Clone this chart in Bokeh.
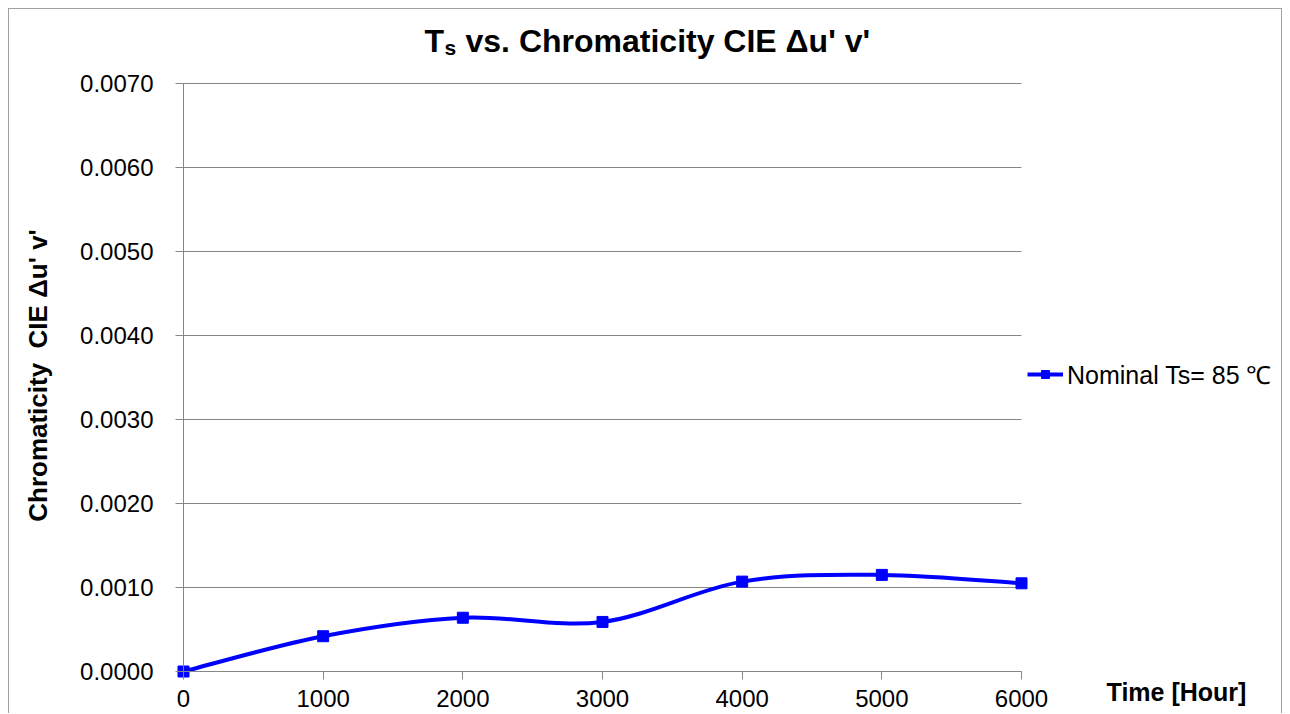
import math
from bokeh.plotting import figure
from bokeh.models import (Label, Legend, LegendItem, FixedTicker, NumeralTickFormatter,
                          Range1d, ColumnDataSource, Grid)
from bokeh.embed import file_html
from bokeh.resources import INLINE

# ---- data ----
hours = [0, 1000, 2000, 3000, 4000, 5000, 6000]
delta_uv = [0.0000, 0.00042, 0.00064, 0.00059, 0.00107, 0.00115, 0.00105]
series_name = "Nominal Ts= 85 \u2103"
x_ticks = [0, 1000, 2000, 3000, 4000, 5000, 6000]
y_ticks = [0.0, 0.001, 0.002, 0.003, 0.004, 0.005, 0.006, 0.007]
x_lo, x_hi = 0, 6000
y_lo, y_hi = 0.0, 0.007

BLUE = "#0000FF"
GRID = "#868686"
FONT = "Liberation Sans"

# page-pixel layout of the plot area (axes drawn at fixed locations)
PX_LEFT, PX_RIGHT, PX_TOP, PX_BOTTOM = 183, 1021, 83, 671
CANVAS_X0, CANVAS_Y0 = 9, 9          # canvas origin on the page (8px margin + 1px border)
W, H = 1274, 705


def dx(px):
    """page x pixel -> data x"""
    return x_lo + (px - PX_LEFT) * (x_hi - x_lo) / (PX_RIGHT - PX_LEFT)


def dy(py):
    """page y pixel -> data y"""
    return y_lo + (PX_BOTTOM - py) * (y_hi - y_lo) / (PX_BOTTOM - PX_TOP)


p = figure(width=W, height=H, output_backend="svg", toolbar_location=None, title=None,
           x_range=Range1d(dx(CANVAS_X0), dx(CANVAS_X0 + W)),
           y_range=Range1d(dy(CANVAS_Y0 + H), dy(CANVAS_Y0)),
           min_border=0, min_border_left=0, min_border_right=0,
           min_border_top=0, min_border_bottom=0,
           background_fill_color="white", border_fill_color="white",
           styles={"margin-left": "8px", "margin-top": "8px",
                   "border-top": "1px solid #a0a0a0", "border-left": "1px solid #a0a0a0",
                   "border-right": "1px solid #a0a0a0"})
p.outline_line_color = None

# axes, placed at the data origin
p.xaxis.ticker = FixedTicker(ticks=x_ticks)
p.yaxis.ticker = FixedTicker(ticks=y_ticks)
p.yaxis.formatter = NumeralTickFormatter(format="0.0000")
p.xaxis.fixed_location = y_lo
p.yaxis.fixed_location = x_lo
p.xaxis.bounds = (x_lo, x_hi)
p.yaxis.bounds = (y_lo, y_hi)
for ax in (p.xaxis, p.yaxis):
    ax.axis_line_color = GRID
    ax.major_tick_line_color = GRID
    ax.minor_tick_line_color = None
    ax.major_tick_out = 8
    ax.major_tick_in = 0
    ax.major_label_text_font = FONT
    ax.major_label_text_font_size = "24px"
    ax.major_label_text_color = "black"
p.yaxis.major_label_standoff = 22
p.xaxis.major_label_standoff = 10

# grid: horizontal lines only, limited to the plot area
p.xgrid.grid_line_color = None
if "cross_bounds" in Grid.properties():
    p.ygrid.ticker = FixedTicker(ticks=y_ticks)
    p.ygrid.bounds = (y_lo, y_hi)
    p.ygrid.cross_bounds = (x_lo, x_hi)
    p.ygrid.grid_line_color = GRID
    p.ygrid.grid_line_width = 1
else:
    p.ygrid.grid_line_color = None
    inner = y_ticks[1:-1]
    p.segment(x0=[x_lo] * len(inner), x1=[x_hi] * len(inner), y0=inner, y1=inner,
              line_color=GRID, line_width=1, level="underlay")

# smoothed line (Excel-style Bezier smoothing through the data points)
n = len(hours)
xs0, ys0, xs1, ys1, cx0, cy0, cx1, cy1 = [], [], [], [], [], [], [], []
for i in range(n - 1):
    pm = max(i - 1, 0)
    pn = min(i + 2, n - 1)
    xs0.append(hours[i]); ys0.append(delta_uv[i])
    xs1.append(hours[i + 1]); ys1.append(delta_uv[i + 1])
    cx0.append(hours[i] + (hours[i + 1] - hours[pm]) / 6)
    cy0.append(delta_uv[i] + (delta_uv[i + 1] - delta_uv[pm]) / 6)
    cx1.append(hours[i + 1] - (hours[pn] - hours[i]) / 6)
    cy1.append(delta_uv[i + 1] - (delta_uv[pn] - delta_uv[i]) / 6)
bez = ColumnDataSource(dict(x0=xs0, y0=ys0, x1=xs1, y1=ys1, cx0=cx0, cy0=cy0, cx1=cx1, cy1=cy1))
curve = p.bezier(x0="x0", y0="y0", x1="x1", y1="y1", cx0="cx0", cy0="cy0", cx1="cx1", cy1="cy1",
                 source=bez, line_color=BLUE, line_width=4)
src = ColumnDataSource(dict(x=hours, y=delta_uv))
pts = p.scatter("x", "y", source=src, marker="square", size=11, fill_color=BLUE, line_color=BLUE)

# legend: line + square marker
legend = Legend(items=[LegendItem(label=series_name, renderers=[curve, pts], index=0)],
                location=(1027 - CANVAS_X0, (CANVAS_Y0 + H) - 376 - 15),
                orientation="vertical",
                label_text_font=FONT, label_text_font_size="25px", label_text_color="black",
                glyph_width=36, glyph_height=20, label_standoff=4, label_height=30,
                padding=0, margin=0, spacing=0,
                border_line_color=None, background_fill_alpha=0)
p.add_layout(legend, "center")

# title with subscript "s"
TS = 32
p.add_layout(Label(x=dx(424), y=dy(40), text="T", text_font=FONT,
                   text_font_style="bold", text_font_size=f"{TS}px", text_baseline="alphabetic",
                   text_align="left", text_color="black"))
p.add_layout(Label(x=dx(444), y=dy(47), text="s", text_font=FONT,
                   text_font_style="bold", text_font_size="21px", text_baseline="alphabetic",
                   text_align="left", text_color="black"))
p.add_layout(Label(x=dx(465), y=dy(40), text="vs. Chromaticity CIE \u0394u' v'",
                   text_font=FONT, text_font_style="bold", text_font_size=f"{TS}px",
                   text_baseline="alphabetic", text_align="left", text_color="black"))

# y axis title
p.add_layout(Label(x=dx(37), y=dy(375), text="Chromaticity \u00a0CIE \u0394u' v'",
                   angle=math.pi / 2, text_font=FONT, text_font_style="bold",
                   text_font_size="26px", text_align="center", text_baseline="middle",
                   text_color="black"))
# x axis title
p.add_layout(Label(x=dx(1176), y=dy(691), text="Time [Hour]",
                   text_font=FONT, text_font_style="bold", text_font_size="25px",
                   text_align="center", text_baseline="middle", text_color="black"))

open("out.html", "w").write(file_html(p, INLINE))
